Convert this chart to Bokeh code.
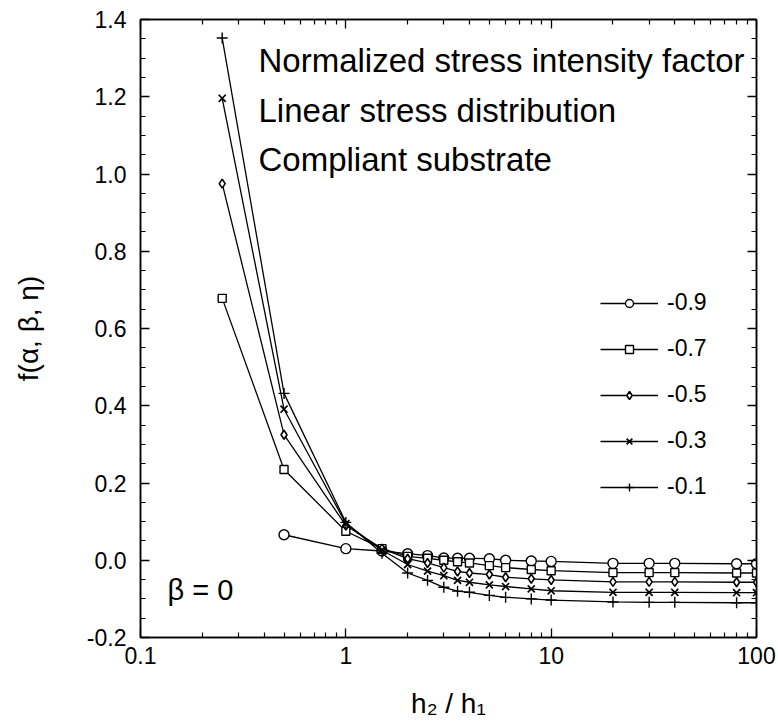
from bokeh.plotting import figure
from bokeh.models import (Range1d, FixedTicker, LogAxis, LinearAxis, Label, Legend,
                          LegendItem, CustomJSTickFormatter, ColumnDataSource)
from bokeh.embed import file_html
from bokeh.resources import INLINE

# ---------------- data ----------------
x_ratio = [0.25, 0.5, 1, 1.5, 2, 2.5, 3, 3.5, 4, 5, 6, 8, 10, 20, 30, 40, 80, 100]
x_ratio_m09 = [0.5, 1, 1.5, 2, 2.5, 3, 3.5, 4, 5, 6, 8, 10, 20, 30, 40, 80, 100]

f_m09 = [0.066, 0.030, 0.024, 0.017, 0.012, 0.006, 0.005, 0.005, 0.004, 0.000,
         -0.002, -0.003, -0.008, -0.008, -0.008, -0.009, -0.009]
f_m07 = [0.678, 0.235, 0.075, 0.030, 0.010, 0.005, 0.000, -0.004, -0.007, -0.014,
         -0.019, -0.024, -0.027, -0.032, -0.032, -0.032, -0.033, -0.033]
f_m05 = [0.975, 0.325, 0.090, 0.030, 0.004, -0.007, -0.019, -0.029, -0.033, -0.037,
         -0.044, -0.048, -0.051, -0.056, -0.056, -0.056, -0.057, -0.057]
f_m03 = [1.196, 0.391, 0.095, 0.026, -0.011, -0.028, -0.040, -0.052, -0.057, -0.064,
         -0.068, -0.074, -0.079, -0.083, -0.083, -0.083, -0.084, -0.084]
f_m01 = [1.352, 0.432, 0.098, 0.018, -0.033, -0.052, -0.070, -0.080, -0.083, -0.091,
         -0.096, -0.100, -0.103, -0.108, -0.109, -0.109, -0.110, -0.110]

series_labels = ["-0.9", "-0.7", "-0.5", "-0.3", "-0.1"]
x_major_ticks = [0.1, 1, 10, 100]
x_tick_labels = ["0.1", "1", "10", "100"]
y_major_ticks = [-0.2, 0.0, 0.2, 0.4, 0.6, 0.8, 1.0, 1.2, 1.4]

FONT = "Liberation Sans"

p = figure(width=778, height=726, x_axis_type="log",
           x_range=Range1d(0.1, 100), y_range=Range1d(-0.2, 1.4),
           output_backend="svg", toolbar_location=None,
           min_border_left=140, min_border_right=22,
           min_border_top=19, min_border_bottom=89)
p.grid.visible = False
p.outline_line_color = "black"
p.outline_line_width = 1.5
p.background_fill_color = "white"
p.border_fill_color = "white"

x_minor = [m * d for d in [0.1, 1, 10] for m in range(2, 10)]
y_minor = [round(-0.2 + 0.05 * i, 2) for i in range(33)]
xticker = FixedTicker(ticks=x_major_ticks, minor_ticks=x_minor)
yticker = FixedTicker(ticks=y_major_ticks, minor_ticks=y_minor)


def style_axis(ax):
    ax.axis_line_color = "black"
    ax.axis_line_width = 1.5
    ax.major_tick_in = 9
    ax.major_tick_out = 0
    ax.minor_tick_in = 5
    ax.minor_tick_out = 0
    ax.major_tick_line_color = "black"
    ax.minor_tick_line_color = "black"
    ax.major_tick_line_width = 1.3
    ax.minor_tick_line_width = 1.2
    ax.major_label_text_font = FONT
    ax.major_label_text_font_size = "23px"
    ax.major_label_text_color = "black"
    ax.axis_label_text_font = FONT
    ax.axis_label_text_font_style = "normal"
    ax.axis_label_text_color = "black"


xa = p.xaxis[0]
xa.ticker = xticker
xa.major_label_overrides = {t: s for t, s in zip(x_major_ticks, x_tick_labels)}
style_axis(xa)
xa.major_label_standoff = 9
xa.axis_label = "h₂ / h₁"
xa.axis_label_text_font_size = "28px"
xa.axis_label_standoff = 21

ya = p.yaxis[0]
ya.ticker = yticker
ya.formatter = CustomJSTickFormatter(code="return tick.toFixed(1)")
style_axis(ya)
ya.major_label_standoff = 14
ya.axis_label = "f(α, β, η)"
ya.axis_label_text_font_size = "28px"
ya.axis_label_standoff = 40

blank = CustomJSTickFormatter(code="return ''")
top = LogAxis(ticker=xticker, formatter=blank)
style_axis(top)
top.major_label_standoff = 0
p.add_layout(top, "above")
right = LinearAxis(ticker=yticker, formatter=blank)
style_axis(right)
right.major_label_standoff = 0
p.add_layout(right, "right")

# ---------------- series ----------------
specs = [
    (x_ratio_m09, f_m09, "circle", 10, 1.4),
    (x_ratio, f_m07, "square", 8, 1.4),
    (x_ratio, f_m05, "diamond", 9, 1.6),
    (x_ratio, f_m03, "x", 10, 1.7),
    (x_ratio, f_m01, "cross", 11, 1.4),
]
items = []
for (xs, ys, marker, size, lw), lab in zip(specs, series_labels):
    src = ColumnDataSource(dict(x=xs, y=ys))
    lr = p.line("x", "y", source=src, line_color="black", line_width=1.3)
    sr = p.scatter("x", "y", source=src, marker=marker, size=size,
                   fill_color="white" if marker in ("circle", "square", "diamond") else None,
                   line_color="black", line_width=lw)
    items.append(LegendItem(label=lab, renderers=[lr, sr]))

legend = Legend(items=items, location=(460, 137), glyph_width=58, glyph_height=20,
                label_height=20, label_standoff=9, spacing=19, padding=0, margin=0,
                border_line_color=None, background_fill_alpha=0,
                label_text_font=FONT, label_text_font_size="23px",
                label_text_color="black")
p.add_layout(legend)

# ---------------- texts ----------------
for txt, yb in [("Normalized stress intensity factor", 577),
                ("Linear stress distribution", 527),
                ("Compliant substrate", 478)]:
    p.add_layout(Label(x=118, y=yb, x_units="screen", y_units="screen", text=txt,
                       text_font=FONT, text_font_size="33px", text_color="black",
                       text_baseline="alphabetic", text_align="left"))

p.add_layout(Label(x=27, y=48, x_units="screen", y_units="screen", text="β = 0",
                   text_font=FONT, text_font_size="29px", text_color="black",
                   text_baseline="alphabetic", text_align="left"))

open("out.html", "w").write(file_html(p, INLINE))
